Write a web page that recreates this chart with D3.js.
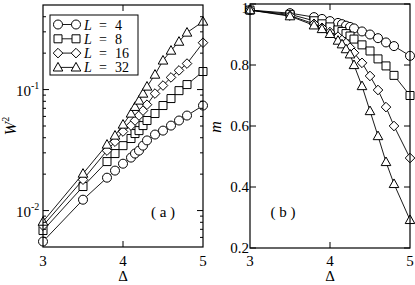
<!DOCTYPE html>
<meta charset="utf-8">
<style>
    body { margin: 0; background: #fff; }
    svg text { font-family: "Liberation Serif", "Times New Roman", "DejaVu Serif", serif; fill: #000; }
    .frame { fill: none; stroke: #000; stroke-width: 1.2px; }
    .tick-line { stroke: #000; stroke-width: 1px; }
    .line { fill: none; stroke: #000; stroke-width: 0.9px; }
    .mark { fill: #fff; stroke: #000; stroke-width: 1px; }
</style>
<svg width="415" height="285" font-family="Liberation Serif, serif"></svg>
<script src="https://cdnjs.cloudflare.com/ajax/libs/d3/7.8.5/d3.min.js"></script>
<script>

    // data
    var delta = [3.0, 3.5, 3.8, 3.9, 4.0, 4.1, 4.15, 4.2, 4.25, 4.3, 4.4, 4.5, 4.6, 4.7, 4.8, 5.0];
    var sizes = [4, 8, 16, 32];
    var shapes = ["circle", "square", "diamond", "triangle"];

    var w2_L4  = [0.00555, 0.0123, 0.0187, 0.0214, 0.0244, 0.0274, 0.0296, 0.0313, 0.0344, 0.0380, 0.0425, 0.0458, 0.0504, 0.0555, 0.0610, 0.0738];
    var w2_L8  = [0.00684, 0.0158, 0.0254, 0.0296, 0.0344, 0.0394, 0.0433, 0.0458, 0.0504, 0.0555, 0.0634, 0.0738, 0.0843, 0.0980, 0.110, 0.141];
    var w2_L16 = [0.0075, 0.0180, 0.0313, 0.0371, 0.0450, 0.0504, 0.0555, 0.0610, 0.0670, 0.0750, 0.0927, 0.108, 0.126, 0.144, 0.164, 0.244];
    var w2_L32 = [0.0081, 0.0202, 0.0351, 0.0417, 0.0514, 0.0634, 0.0720, 0.0812, 0.0927, 0.106, 0.133, 0.174, 0.210, 0.249, 0.296, 0.365];

    var m_L4  = [0.98, 0.970, 0.957, 0.951, 0.944, 0.938, 0.934, 0.929, 0.925, 0.920, 0.910, 0.900, 0.888, 0.874, 0.862, 0.830];
    var m_L8  = [0.98, 0.966, 0.945, 0.935, 0.925, 0.915, 0.910, 0.903, 0.895, 0.885, 0.866, 0.846, 0.820, 0.797, 0.766, 0.700];
    var m_L16 = [0.98, 0.962, 0.935, 0.922, 0.908, 0.893, 0.882, 0.872, 0.857, 0.840, 0.807, 0.764, 0.718, 0.662, 0.600, 0.495];
    var m_L32 = [0.98, 0.960, 0.930, 0.918, 0.902, 0.880, 0.868, 0.852, 0.835, 0.800, 0.731, 0.649, 0.567, 0.482, 0.410, 0.292];

    var xTicks = [3, 4, 5];
    var logMajor = [0.01, 0.1];
    var mTicks = [0.2, 0.4, 0.6, 0.8, 1];

    var w2 = [w2_L4, w2_L8, w2_L16, w2_L32],
        mag = [m_L4, m_L8, m_L16, m_L32];

    var svg = d3.select("svg");
    var serif = "'Liberation Serif', 'Times New Roman', 'DejaVu Serif', serif";

    function label(g) {
        return g.append("text").style("font-family", serif);
    }

    function marker(shape) {
        if (shape == "circle") return "M4.5,0A4.5,4.5 0 1,1 -4.5,0A4.5,4.5 0 1,1 4.5,0Z";
        if (shape == "square") return "M-4,-4H4V4H-4Z";
        if (shape == "diamond") return "M0,-4.8L4.8,0L0,4.8L-4.8,0Z";
        return "M0,-5L4.8,3.6H-4.8Z";
    }

    function panel(left, right, top, bottom, y, values, minor) {
        var x = d3.scaleLinear().domain([3, 5]).range([left, right]);
        var g = svg.append("g");

        var line = d3.line()
            .x(function(d) { return x(d[0]); })
            .y(function(d) { return y(d[1]); });

        sizes.forEach(function(L, i) {
            var pts = delta.map(function(d, j) { return [d, values[i][j]]; });
            g.append("path").attr("class", "line").attr("d", line(pts));
            g.selectAll(".m" + i)
                .data(pts)
                .enter().append("path")
                .attr("class", "mark m" + i)
                .attr("transform", function(d) { return "translate(" + x(d[0]) + "," + y(d[1]) + ")"; })
                .attr("d", marker(shapes[i]));
        });

        g.append("rect").attr("class", "frame")
            .attr("x", left).attr("y", top)
            .attr("width", right - left).attr("height", bottom - top);

        // x ticks, inward, top and bottom
        [4].forEach(function(t) {
            g.append("line").attr("class", "tick-line")
                .attr("x1", x(t)).attr("x2", x(t)).attr("y1", bottom).attr("y2", bottom - 6);
            g.append("line").attr("class", "tick-line")
                .attr("x1", x(t)).attr("x2", x(t)).attr("y1", top).attr("y2", top + 6);
        });
        xTicks.forEach(function(t) {
            label(g).attr("x", x(t)).attr("y", 266)
                .attr("text-anchor", "middle").style("font-size", "15px").text(t);
        });
        label(g).attr("x", (left + right) / 2).attr("y", 281)
            .attr("text-anchor", "middle").style("font-size", "15px").text("\u0394");

        // y ticks on both sides
        function ytick(v, len) {
            g.append("line").attr("class", "tick-line")
                .attr("x1", left).attr("x2", left + len).attr("y1", y(v)).attr("y2", y(v));
            g.append("line").attr("class", "tick-line")
                .attr("x1", right).attr("x2", right - len).attr("y1", y(v)).attr("y2", y(v));
        }
        minor.forEach(function(v) { ytick(v, 3); });
        return {g: g, x: x, ytick: ytick};
    }

    // panel (a): W^2, log scale
    var ya = d3.scaleLog().domain([0.005, 0.5]).range([247, 5]);
    var minorA = [];
    [0.001, 0.01, 0.1].forEach(function(dec) {
        for (var k = 2; k <= 9; k++) {
            var v = dec * k;
            if (v > 0.005 && v < 0.5) minorA.push(v);
        }
    });
    var pa = panel(43, 203, 5, 247, ya, w2, minorA);
    logMajor.forEach(function(v, i) {
        pa.ytick(v, 6);
        var t = label(pa.g).attr("x", 16).attr("y", ya(v) + 6).style("font-size", "15px");
        t.append("tspan").text("10");
        t.append("tspan").attr("dy", -7).style("font-size", "10px").text(i == 0 ? "-2" : "-1");
    });
    var wl = label(pa.g).attr("transform", "translate(16,126) rotate(-90)")
        .attr("text-anchor", "middle").style("font-size", "16px");
    wl.append("tspan").style("font-style", "italic").text("W");
    wl.append("tspan").attr("dy", -7).style("font-size", "10px").text("2");
    label(pa.g).attr("x", 163).attr("y", 217).attr("text-anchor", "middle")
        .style("font-size", "15px").text("( a )");

    // legend
    var lg = pa.g.append("g");
    lg.append("rect").attr("class", "frame").style("stroke-width", "1px")
        .attr("x", 50).attr("y", 15).attr("width", 88).attr("height", 60);
    sizes.forEach(function(L, i) {
        var yy = 24.5 + i * 14.3;
        lg.append("line").attr("class", "line").attr("x1", 58).attr("x2", 76).attr("y1", yy).attr("y2", yy);
        [58, 76].forEach(function(xx) {
            lg.append("path").attr("class", "mark")
                .attr("transform", "translate(" + xx + "," + yy + ")").attr("d", marker(shapes[i]));
        });
        var t = label(lg).attr("x", 84).attr("y", yy + 5).style("font-size", "14px");
        t.append("tspan").style("font-style", "italic").text("L");
        t.append("tspan").attr("x", 99).text("=");
        t.append("tspan").attr("x", 115).text(L);
    });

    // panel (b): m
    var yb = d3.scaleLinear().domain([0.2, 1]).range([248, 4]);
    var pb = panel(250, 410, 4, 248, yb, mag, []);
    mTicks.forEach(function(v) {
        pb.ytick(v, 6);
        label(pb.g).attr("x", 249).attr("y", v == 1 ? 13 : yb(v) + 5)
            .attr("text-anchor", "end").style("font-size", "15px").text(v == 1 ? "1" : v.toFixed(1));
    });
    label(pb.g).attr("transform", "translate(221,127) rotate(-90)")
        .attr("text-anchor", "middle").style("font-size", "16px").style("font-style", "italic").text("m");
    label(pb.g).attr("x", 283).attr("y", 217).attr("text-anchor", "middle")
        .style("font-size", "15px").text("( b )");

</script>
